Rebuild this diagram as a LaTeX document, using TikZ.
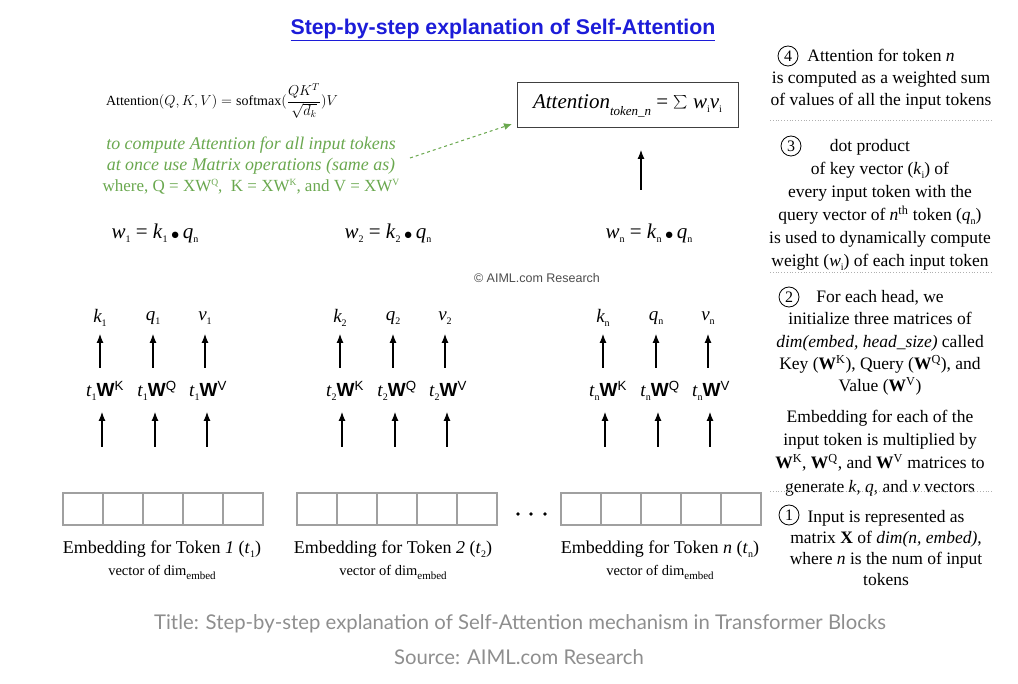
\documentclass[tikz,border=0pt]{standalone}
\usepackage{fontspec}
\usepackage{graphicx}
\setmainfont{Liberation Serif}
\newfontfamily\titlefont{Liberation Sans}
\newfontfamily\capfont{Lato}
\usetikzlibrary{arrows.meta}
\definecolor{aigreen}{HTML}{6AA84F}
\definecolor{titleblue}{HTML}{1C1CD8}
\definecolor{boxgray}{HTML}{A0A0A0}
\definecolor{capgray}{HTML}{8E8E8E}
\definecolor{dotgray}{HTML}{B0B0B0}
\newcommand\fs[2]{\fontsize{#1}{#2}\selectfont}
\newcommand\lsub[1]{\raisebox{-4pt}{\fs{10}{10}\upshape #1}}
\newcommand\lsubb[1]{\raisebox{-4pt}{\fs{11}{11}\upshape #1}}
\newcommand\gsup[1]{\raisebox{6pt}{\fs{9.5}{10}#1}}
\newcommand\tWk[2]{\textit{t}\lsub{#1}{\titlefont\bfseries W}\textsuperscript{\titlefont #2}}
\newcommand\mybul{\,\raisebox{-1.5pt}{\scalebox{0.8}{$\bullet$}}\,}
\begin{document}
\begin{tikzpicture}[x=1pt,y=-1pt,
  arr/.style={-{Latex[length=9pt,width=7pt]},line width=1.1pt},
  cell/.style={draw=boxgray,line width=1.1pt,minimum width=40pt,minimum height=32pt,inner sep=0pt},
  vec/.style={font=\fs{19}{22}\itshape,inner sep=1pt},
  tw/.style={font=\fs{19}{22},inner sep=1pt},
  weq/.style={font=\fs{21}{24}},
  emblab/.style={font=\fs{18}{21}},
  dimlab/.style={font=\fs{14.5}{17}},
  rtext/.style={font=\fs{17.5}{22},align=center,inner sep=0pt},
  num/.style={circle,draw,line width=0.8pt,minimum size=20pt,inner sep=0pt,font=\fs{16}{16}},
  sep/.style={dotgray,dotted,line width=0.8pt}
]
\useasboundingbox (0,0) rectangle (1018,684);

% title
\node[font=\titlefont\bfseries\fs{21.3}{25},text=titleblue] (title) at (503,30) {\underline{Step-by-step explanation of Self-Attention}};

% formula
\node (formula) at (222,101) {\fs{14}{16}$\displaystyle \mathrm{Attention}(Q,K,V)=\mathrm{softmax}(\frac{QK^T}{\sqrt{d_k}})V$};

% green text
\node[text=aigreen,align=center,font=\fs{17.9}{21}] (green) at (251,166)
  {\itshape to compute Attention for all input tokens\\
   \itshape at once use Matrix operations (same as)\\
   \fs{17}{21}where, Q = XW\gsup{Q}, \ K = XW\gsup{K}, and V = XW\gsup{V}};
\coordinate (gstart) at (410,158);
\coordinate (gend) at (512,124);
\draw[aigreen,dashed,line width=1pt,-{Latex[length=8pt,width=7pt]}] (gstart) -- (gend);

% attention box
\node[draw=black!75,line width=1pt,minimum width=221pt,minimum height=45pt] (attbox) at (627.5,105.5)
  {\fs{21}{24}\textit{Attention}\raisebox{-7pt}{\fs{13}{13}\itshape token\_n} = \raisebox{-1pt}{\scalebox{1.35}{$\sum$}} \textit{w}\lsub{i}\textit{v}\lsub{i}};
\coordinate (attfoot) at (641,190);
\coordinate (atttip) at (641,150);
\draw[arr] (attfoot) -- (atttip);

% w equations
\node[weq] (w1) at (155,233) {\textit{w}\lsub{1} = \textit{k}\lsub{1}\mybul\textit{q}\lsub{n}};
\node[weq] (w2) at (388,233) {\textit{w}\lsub{2} = \textit{k}\lsub{2}\mybul\textit{q}\lsub{n}};
\node[weq] (wn) at (649,233) {\textit{w}\lsub{n} = \textit{k}\lsub{n}\mybul\textit{q}\lsub{n}};

% copyright
\node[font=\titlefont\fs{12.5}{15},text=black!70] (copy) at (537,278) {© AIML.com Research};

% groups
\foreach \g/\d/\s in {1/0/1,2/240/2,n/503/n}{
  \node[vec] (k\g) at (100+\d,318) {k\lsub{\s}};
  \node[vec] (q\g) at (153+\d,318) {q\lsub{\s}};
  \node[vec] (v\g) at (205+\d,318) {v\lsub{\s}};
  \node[tw] (tk\g) at (105+\d,391) {\tWk{\s}{K}};
  \node[tw] (tq\g) at (157+\d,391) {\tWk{\s}{Q}};
  \node[tw] (tv\g) at (208+\d,391) {\tWk{\s}{V}};
  \coordinate (ak\g) at (100+\d,368); \coordinate (bk\g) at (100+\d,334);
  \coordinate (aq\g) at (153+\d,368); \coordinate (bq\g) at (153+\d,334);
  \coordinate (av\g) at (205+\d,368); \coordinate (bv\g) at (205+\d,334);
  \draw[arr] (ak\g) -- (bk\g);
  \draw[arr] (aq\g) -- (bq\g);
  \draw[arr] (av\g) -- (bv\g);
  \coordinate (ck\g) at (102+\d,447); \coordinate (dk\g) at (102+\d,412);
  \coordinate (cq\g) at (155+\d,447); \coordinate (dq\g) at (155+\d,412);
  \coordinate (cv\g) at (207+\d,447); \coordinate (dv\g) at (207+\d,412);
  \draw[arr] (ck\g) -- (dk\g);
  \draw[arr] (cq\g) -- (dq\g);
  \draw[arr] (cv\g) -- (dv\g);
}

% embedding boxes
\foreach \g/\x in {1/63,2/297,n/561}{
  \foreach \i in {1,...,5}{
    \node[cell] (e\g c\i) at (\x+20+40*\i-40,509) {};
  }
}
\foreach \i/\x in {1/518,2/531,3/545}{
  \node[circle,fill=black,inner sep=0pt,minimum size=3.6pt] (dot\i) at (\x,514) {};
}

% embedding labels
\node[emblab] (l1) at (162,549) {Embedding for Token \textit{1} (\textit{t}\lsub{1})};
\node[dimlab] (d1) at (162,572) {vector of dim\lsubb{embed}};
\node[emblab] (l2) at (393,549) {Embedding for Token \textit{2} (\textit{t}\lsub{2})};
\node[dimlab] (d2) at (393,572) {vector of dim\lsubb{embed}};
\node[emblab] (ln) at (660,549) {Embedding for Token \textit{n} (\textit{t}\lsub{n})};
\node[dimlab] (dn) at (660,572) {vector of dim\lsubb{embed}};

% right panel
\node[num] (c4) at (788,56) {4};
\node[rtext] (r4) at (881,79) {Attention for token \textit{n}\\is computed as a weighted sum\\of values of all the input tokens};
\draw[sep] (770,120) -- (993,120);
\node[num] (c3) at (791,146) {3};
\node[rtext,font=\fs{17.5}{23}] (r3) at (880,205) {\hspace*{-20pt}dot product\\of key vector (\textit{k}\lsub{i}) of\\every input token with the\\query vector of \textit{n}\textsuperscript{th} token (\textit{q}\lsub{n})\\is used to dynamically compute\\weight (\textit{w}\lsub{i}) of each input token};
\draw[sep] (770,272) -- (993,272);
\node[num] (c2) at (789,297) {2};
\node[rtext,font=\fs{17.5}{22.3}] (r2) at (880,343) {For each head, we\\initialize three matrices of\\\textit{dim(embed, head\_size)} called\\Key (\textbf{W}\textsuperscript{K}), Query (\textbf{W}\textsuperscript{Q}), and\\Value (\textbf{W}\textsuperscript{V})};
\node[rtext,font=\fs{17.5}{23.3}] (r2b) at (880,453) {Embedding for each of the\\input token is multiplied by\\\textbf{W}\textsuperscript{K}, \textbf{W}\textsuperscript{Q}, and \textbf{W}\textsuperscript{V} matrices to\\generate \textit{k}, \textit{q}, and \textit{v} vectors};
\draw[sep] (770,491) -- (993,491);
\node[num] (c1) at (789,515) {1};
\node[rtext,font=\fs{17.5}{21}] (r1) at (886,548) {Input is represented as\\matrix \textbf{X} of \textit{dim(n, embed)},\\where \textit{n} is the num of input\\tokens};

% caption
\node[font=\capfont\fs{20.3}{24},text=capgray] (cap1) at (520,624) {Title: Step-by-step explanation of Self-Attention mechanism in Transformer Blocks};
\node[font=\capfont\fs{20.3}{24},text=capgray] (cap2) at (519,657) {Source: AIML.com Research};
\end{tikzpicture}
\end{document}
